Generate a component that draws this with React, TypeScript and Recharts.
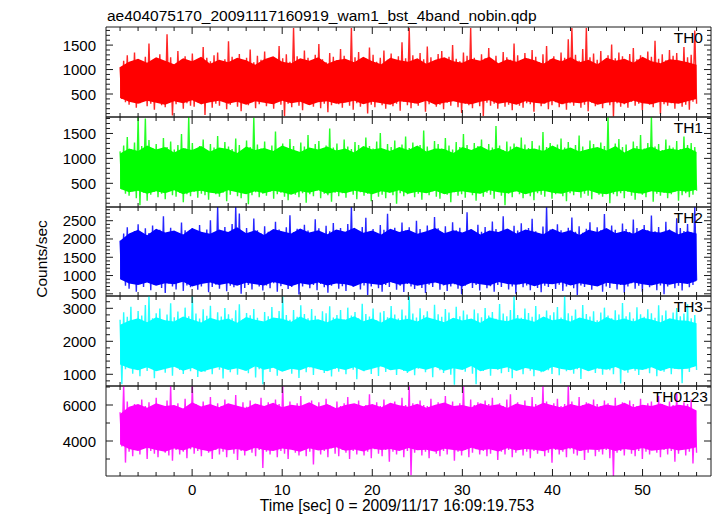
import { ComposedChart, Line, Area, XAxis, YAxis } from "recharts"

// time span of the light curve (sec), and the plotted x range
const T_START = -8
const T_END = 56
const X_DOMAIN: [number, number] = [-9.56, 57.6]
const timeTicks = [-8, -6, -4, -2, 0, 2, 4, 6, 8, 10, 12, 14, 16, 18, 20, 22, 24, 26, 28, 30, 32, 34, 36, 38, 40, 42, 44, 46, 48, 50, 52, 54, 56]
const timeLabels = [0, 10, 20, 30, 40, 50]

// upper / lower swings of each band, read left to right
const th0Hi = [
  1050, 1180, 1290, 1120, 1350, 1210, 1080, 1260, 1530, 1140, 1230, 1310, 1170, 1720, 1250, 1090, 1380, 1200, 1270, 1150,
  1330, 1190, 1100, 1460, 1240, 1170, 1290, 1350, 1120, 1210, 1580, 1260, 1180, 1320, 1090, 1240, 1410, 1150, 1280, 1200,
  1370, 1130, 1250, 1190, 1480, 1230, 1310, 1160, 1850, 1270, 1120, 1390, 1240, 1180, 1300, 1520, 1210, 1150, 1340, 1260,
  1190, 1420, 1280, 1130, 1850, 1250, 1360, 1170, 1220, 1450, 1300, 1160, 1240, 1390, 1200, 1330, 1110, 1270, 1560, 1230,
  1850, 1290, 1180, 1340, 1210, 1470, 1250, 1140, 1320, 1380, 1190, 1260, 1500, 1220, 1170, 1350, 1280, 1850, 1240, 1160,
  1310, 1230, 1440, 1190, 1280, 1130, 1360, 1250, 1200, 1530, 1290, 1170, 1340, 1220, 1400, 1260, 1150, 1310, 1480, 1210,
  1270, 1190, 1350, 1240, 1620, 1850, 1300, 1180, 1420, 1850, 1250, 1330, 1200, 1380, 1160, 1290, 1510, 1230, 1350, 1270,
  1180, 1320, 1440, 1210, 1290, 1150, 1370, 1260, 1590, 1220, 1310, 1190, 1400, 1280, 1340, 1170, 1460, 1250, 1300, 1800,
]
const th0Lo = [
  400, 330, 280, 360, 220, 310, 390, 250, 300, 180, 340, 270, 230, 320, 60, 290, 350, 200, 310, 260,
  240, 330, 290, 70, 350, 220, 300, 260, 380, 190, 280, 340, 240, 150, 310, 270, 330, 210, 290, 360,
  250, 310, 200, 340, 280, 50, 300, 230, 350, 260, 170, 320, 280, 240, 360, 210, 300, 130, 270, 330,
  290, 220, 350, 260, 180, 310, 240, 330, 100, 280, 230, 360, 270, 200, 320, 250, 300, 160, 340, 270,
  210, 310, 260, 350, 140, 290, 330, 240, 280, 190, 320, 260, 360, 230, 110, 300, 270, 210, 340, 250,
  50, 320, 260, 300, 200, 350, 240, 280, 170, 330, 260, 220, 310, 290, 140, 340, 250, 300, 190, 270,
  330, 230, 290, 180, 310, 260, 350, 220, 280, 150, 320, 250, 300, 210, 340, 270, 40, 310, 240, 290,
  220, 340, 260, 300, 170, 320, 280, 230, 350, 90, 290, 260, 310, 200, 330, 240, 280, 180, 340, 300,
]
const th1Hi = [
  1140, 1260, 1430, 1190, 1320, 1830, 1250, 1800, 1370, 1210, 1290, 1150, 1410, 1230, 1340, 1180, 1270, 1490, 1200, 1830,
  1310, 1170, 1250, 1380, 1120, 1290, 1220, 1450, 1160, 1330, 1240, 1190, 1400, 1270, 1150, 1360, 1230, 1820, 1280, 1200,
  1340, 1160, 1260, 1540, 1210, 1300, 1180, 1390, 1250, 1130, 1320, 1240, 1470, 1190, 1290, 1350, 1170, 1260, 1600, 1220,
  1300, 1150, 1380, 1240, 1190, 1330, 1270, 1130, 1420, 1250, 1200, 1340, 1510, 1180, 1290, 1230, 1360, 1160, 1280, 1440,
  1210, 1320, 1190, 1270, 1560, 1240, 1150, 1350, 1290, 1200, 1410, 1260, 1180, 1330, 1230, 1490, 1270, 1140, 1310, 1250,
  1380, 1190, 1290, 1220, 1650, 1260, 1170, 1340, 1240, 1300, 1160, 1420, 1280, 1210, 1350, 1190, 1260, 1530, 1230, 1310,
  1170, 1280, 1400, 1220, 1330, 1190, 1270, 1460, 1240, 1150, 1360, 1290, 1210, 1320, 1250, 1830, 1180, 1300, 1390, 1230,
  1280, 1160, 1340, 1250, 1470, 1200, 1310, 1830, 1240, 1290, 1170, 1380, 1260, 1220, 1350, 1190, 1440, 1270, 1310, 1230,
]
const th1Lo = [
  380, 290, 250, 340, 200, 60, 310, 150, 270, 330, 220, 290, 180, 350, 260, 230, 310, 120, 280, 240,
  330, 210, 290, 260, 170, 340, 280, 230, 310, 140, 270, 350, 240, 200, 300, 80, 260, 320, 220, 290,
  250, 330, 190, 280, 310, 230, 160, 340, 270, 220, 300, 110, 280, 240, 350, 200, 290, 260, 130, 310,
  240, 300, 210, 350, 270, 180, 320, 250, 290, 140, 330, 230, 270, 200, 310, 260, 90, 300, 240, 280,
  330, 220, 290, 170, 310, 260, 340, 230, 190, 300, 270, 120, 320, 250, 280, 210, 340, 260, 150, 300,
  230, 310, 270, 190, 330, 250, 60, 290, 220, 340, 280, 200, 310, 240, 160, 300, 270, 230, 350, 190,
  280, 320, 240, 140, 300, 260, 330, 210, 290, 250, 180, 340, 270, 230, 310, 100, 280, 240, 300, 200,
  330, 250, 170, 300, 270, 220, 340, 130, 290, 250, 310, 200, 280, 330, 150, 260, 300, 220, 270, 350,
]
const th2Hi = [
  1950, 2150, 2320, 2080, 2220, 2400, 2010, 2290, 2160, 2370, 2050, 2250, 2620, 2130, 2310, 2180, 2060, 2450, 2240, 2120,
  2290, 2170, 2380, 2090, 2260, 2510, 2140, 2875, 2220, 2330, 2060, 2410, 2875, 2700, 2180, 2300, 2110, 2560, 2240, 2150,
  2350, 2200, 2080, 2470, 2260, 2140, 2320, 2650, 2190, 2280, 2070, 2390, 2230, 2160, 2540, 2290, 2120, 2360, 2210, 2440,
  2150, 2300, 2190, 2410, 2875, 2240, 2110, 2330, 2580, 2200, 2270, 2130, 2380, 2250, 2690, 2180, 2310, 2090, 2450, 2230,
  2320, 2160, 2500, 2270, 2140, 2370, 2210, 2600, 2290, 2180, 2350, 2080, 2460, 2240, 2310, 2170, 2730, 2260, 2130, 2390,
  2200, 2330, 2150, 2480, 2270, 2190, 2620, 2250, 2120, 2360, 2230, 2430, 2160, 2300, 2550, 2210, 2140, 2340, 2875, 2260,
  2180, 2400, 2240, 2110, 2310, 2590, 2200, 2350, 2170, 2280, 2460, 2130, 2320, 2240, 2680, 2190, 2370, 2250, 2150, 2420,
  2270, 2190, 2530, 2300, 2160, 2380, 2240, 2640, 2210, 2330, 2120, 2470, 2260, 2190, 2570, 2300, 2220, 2410, 2180, 2875,
]
const th2Lo = [
  900, 720, 640, 810, 560, 760, 690, 850, 600, 740, 800, 660, 520, 780, 700, 620, 830, 580, 730, 680,
  760, 610, 700, 820, 540, 690, 750, 640, 800, 570, 720, 680, 780, 500, 660, 740, 620, 810, 700, 590,
  730, 650, 790, 560, 710, 840, 630, 690, 760, 480, 700, 820, 650, 740, 600, 770, 680, 530, 720, 800,
  640, 710, 580, 760, 690, 820, 620, 730, 470, 700, 780, 650, 560, 740, 690, 810, 610, 720, 550, 770,
  700, 630, 790, 660, 520, 750, 690, 820, 610, 730, 580, 700, 760, 640, 490, 720, 800, 660, 740, 590,
  780, 650, 710, 560, 740, 690, 830, 620, 700, 500, 760, 680, 730, 600, 790, 660, 540, 720, 690, 810,
  630, 750, 580, 700, 800, 650, 470, 730, 690, 760, 610, 720, 820, 560, 700, 660, 780, 620, 740, 530,
  700, 790, 640, 720, 560, 760, 680, 810, 600, 730, 490, 700, 770, 650, 720, 590, 800, 680, 740, 870,
]
const th3Hi = [
  2650, 2880, 2740, 3050, 2600, 2920, 2780, 3100, 3373, 2700, 2850, 2990, 2640, 2810, 3150, 2730, 2900, 2680, 3020, 2760,
  3373, 2840, 2690, 2970, 2770, 3080, 2630, 2880, 2750, 3010, 2820, 2700, 2940, 3120, 2660, 2860, 2790, 2980, 2710, 2600,
  2890, 2760, 3040, 2680, 2920, 3373, 2800, 2650, 2950, 2740, 3090, 2830, 2700, 2980, 2770, 2610, 2910, 2850, 3060, 2720,
  2800, 2950, 2660, 3020, 2780, 2890, 2700, 3140, 2830, 2750, 2990, 2640, 2870, 2920, 2730, 3070, 2810, 2690, 2960, 2780,
  3373, 2840, 2720, 3000, 2790, 2910, 2650, 3110, 2820, 2740, 2980, 2870, 2700, 3050, 2760, 2930, 2810, 2620, 2960, 2850,
  2730, 3010, 2780, 2890, 2680, 3130, 2840, 2760, 2950, 3373, 2800, 2710, 2990, 2860, 2740, 3070, 2820, 2670, 2930, 2790,
  2880, 3040, 2720, 3373, 2850, 2770, 2960, 2690, 3100, 2830, 2750, 2910, 2640, 2870, 3020, 2780, 2700, 2940, 2810, 3160,
  2760, 2880, 2690, 3030, 2820, 2740, 2970, 2850, 2710, 3090, 2790, 2930, 2660, 2870, 3010, 2760, 2840, 3120, 2700, 2800,
]
const th3Lo = [
  700, 1150, 1280, 1020, 1200, 940, 1310, 1100, 1230, 880, 1170, 1290, 1050, 1220, 960, 1300, 1130, 1010, 1250, 1090,
  1190, 920, 1270, 1080, 1210, 1000, 1320, 1140, 870, 1240, 1060, 1180, 990, 1290, 1120, 1030, 1260, 900, 1150, 700,
  1230, 1070, 1300, 960, 1190, 1110, 1250, 1020, 1170, 890, 1280, 1060, 1210, 980, 1320, 1130, 1040, 1240, 930, 1160,
  1080, 1270, 1000, 1200, 1140, 850, 1260, 1090, 1180, 1010, 1310, 950, 1220, 1070, 1150, 1290, 980, 1200, 1100, 1040,
  1250, 970, 1170, 1300, 1060, 1190, 910, 1230, 1120, 1040, 1280, 990, 680, 1160, 1210, 1080, 1250, 1020, 700, 1180,
  1100, 1260, 960, 1200, 1140, 1030, 1290, 1070, 880, 1220, 1160, 1000, 1270, 1110, 940, 1230, 1060, 1190, 1120, 1010,
  1240, 970, 1180, 1090, 1300, 1020, 1150, 860, 1210, 1100, 1260, 1040, 1170, 990, 1280, 1120, 1000, 1230, 720, 1140,
  1050, 1270, 1110, 980, 1200, 1150, 1030, 1290, 940, 1180, 1080, 1240, 1000, 1160, 1260, 730, 1190, 1070, 1220, 1130,
]
const thAllHi = [
  5600, 7056, 6200, 5850, 6050, 5700, 6300, 5950, 6150, 5800, 6400, 6000, 5750, 6250, 7056, 5900, 6100, 5650, 6350, 5950,
  7056, 6050, 5800, 6200, 5900, 6450, 5700, 6100, 5950, 6300, 5850, 6000, 6550, 5750, 6150, 5900, 6250, 5800, 6050, 6400,
  5950, 6150, 5700, 6300, 6050, 7056, 5850, 6200, 5950, 6100, 6500, 5800, 6000, 6250, 5900, 6150, 5750, 6350, 6000, 5850,
  6200, 5950, 6100, 6450, 5800, 6050, 6250, 5900, 6000, 6600, 5850, 6150, 5950, 6300, 5700, 6050, 6200, 5900, 6400, 6000,
  7056, 6100, 5850, 6250, 6000, 5950, 6350, 5800, 6150, 6050, 6500, 5900, 6200, 5950, 6100, 7056, 5850, 6300, 6000, 6150,
  5900, 6250, 6050, 6400, 5800, 6100, 5950, 6300, 6600, 5850, 6150, 6000, 6250, 5900, 6450, 6050, 5950, 7056, 6200, 5850,
  6100, 6350, 5950, 6050, 7056, 6200, 5900, 6450, 6000, 6150, 5850, 6300, 6050, 5950, 6250, 6100, 5800, 6400, 6000, 6150,
  5900, 6250, 6050, 5950, 6350, 5850, 6100, 6200, 5950, 6500, 6050, 5900, 6200, 6000, 6650, 5950, 6150, 6050, 6300, 5700,
]
const thAllLo = [
  3700, 2800, 3400, 3150, 3550, 3250, 3650, 3000, 3450, 3300, 3100, 3600, 3350, 3200, 2900, 3500, 3250, 3400, 3050, 3550,
  3300, 3450, 3150, 3600, 3350, 3000, 3500, 3250, 3400, 3100, 3550, 3300, 2950, 3450, 3200, 3600, 3350, 3150, 3500, 2500,
  3400, 3250, 3550, 3100, 3450, 3300, 3000, 3600, 3350, 3200, 3500, 3150, 3400, 2700, 3550, 3250, 3450, 3100, 3600, 3300,
  3150, 3500, 3350, 3000, 3450, 3250, 3600, 3200, 3400, 3050, 3550, 3300, 3150, 3500, 2850, 3400, 3250, 3600, 3100, 3450,
  2100, 3350, 3500, 3200, 3400, 3050, 3550, 3300, 3150, 3450, 3250, 3600, 2900, 3400, 3200, 3500, 3100, 3350, 3550, 3250,
  3450, 3150, 3300, 3600, 2950, 3400, 3250, 3500, 3100, 3350, 3550, 3200, 3400, 3050, 3450, 3300, 3600, 3150, 3350, 2800,
  3500, 3250, 3400, 3100, 3550, 3300, 3200, 3450, 2950, 3350, 3600, 3150, 3400, 3250, 3500, 3050, 2056, 3350, 3450, 3200,
  3550, 3300, 3150, 3450, 3000, 3400, 3250, 3600, 3350, 3100, 3500, 3250, 3450, 2850, 3300, 3550, 3200, 3400, 2750, 3350,
]

// solid core of each band (where the strokes merge), one value per second from -8 to 56
const th0CoreHi = [
  1050, 1160, 1220, 1140, 1250, 1180, 1110, 1230, 1170, 1260, 1120, 1200, 1150, 1240, 1190, 1100,
  1210, 1270, 1160, 1130, 1230, 1180, 1250, 1120, 1190, 1220, 1150, 1260, 1170, 1110, 1240, 1190,
  1160, 1230, 1120, 1200, 1250, 1170, 1140, 1220, 1180, 1260, 1130, 1210, 1160, 1240, 1190, 1120,
  1230, 1170, 1250, 1150, 1200, 1110, 1240, 1180, 1220, 1140, 1260, 1170, 1130, 1210, 1190, 1150, 1100,
]
const th0CoreLo = [
  420, 340, 300, 360, 320, 280, 350, 310, 370, 290, 330, 360, 300, 340, 280, 350,
  320, 290, 360, 310, 340, 270, 330, 350, 300, 320, 360, 290, 340, 310, 280, 350,
  330, 300, 360, 280, 320, 350, 310, 290, 340, 370, 300, 330, 280, 350, 320, 300,
  360, 290, 330, 310, 350, 280, 320, 340, 300, 360, 310, 290, 340, 320, 300, 350, 400,
]
const th1CoreHi = [
  1100, 1200, 1150, 1260, 1180, 1230, 1120, 1210, 1170, 1250, 1140, 1220, 1190, 1110, 1240, 1170,
  1210, 1150, 1260, 1190, 1130, 1220, 1180, 1240, 1160, 1200, 1120, 1250, 1180, 1210, 1150, 1230,
  1170, 1260, 1140, 1200, 1190, 1110, 1230, 1170, 1250, 1160, 1210, 1130, 1240, 1180, 1200, 1150,
  1260, 1170, 1220, 1140, 1190, 1230, 1160, 1250, 1120, 1210, 1180, 1240, 1150, 1200, 1170, 1220, 1130,
]
const th1CoreLo = [
  390, 320, 350, 290, 340, 300, 360, 280, 330, 350, 310, 290, 360, 320, 280, 340,
  300, 350, 320, 270, 340, 310, 360, 290, 330, 300, 350, 320, 280, 340, 310, 360,
  290, 330, 300, 350, 280, 320, 340, 310, 290, 360, 320, 300, 340, 280, 330, 350,
  310, 290, 340, 320, 360, 300, 280, 330, 350, 310, 290, 340, 320, 300, 350, 330, 370,
]
const th2CoreHi = [
  1950, 2150, 2250, 2100, 2280, 2180, 2230, 2120, 2300, 2200, 2140, 2260, 2190, 2320, 2160, 2240,
  2110, 2270, 2210, 2150, 2290, 2180, 2240, 2130, 2260, 2200, 2310, 2170, 2230, 2120, 2280, 2190,
  2250, 2140, 2210, 2300, 2160, 2240, 2180, 2270, 2120, 2230, 2190, 2290, 2150, 2260, 2200, 2130,
  2280, 2170, 2240, 2110, 2250, 2190, 2300, 2160, 2220, 2140, 2270, 2200, 2180, 2250, 2130, 2210, 2150,
]
const th2CoreLo = [
  900, 780, 740, 810, 720, 790, 760, 830, 700, 770, 810, 740, 790, 720, 800, 760,
  730, 820, 770, 710, 790, 750, 810, 730, 780, 760, 700, 800, 770, 740, 820, 750,
  790, 720, 770, 810, 740, 780, 700, 800, 760, 730, 820, 770, 750, 790, 710, 780,
  760, 810, 730, 790, 750, 700, 800, 770, 740, 810, 760, 730, 790, 750, 800, 770, 850,
]
const th3CoreHi = [
  2500, 2620, 2700, 2580, 2730, 2640, 2600, 2750, 2660, 2570, 2710, 2630, 2690, 2560, 2740, 2650,
  2600, 2720, 2680, 2590, 2750, 2630, 2670, 2580, 2700, 2650, 2760, 2610, 2690, 2570, 2720, 2640,
  2680, 2600, 2740, 2660, 2580, 2710, 2630, 2690, 2560, 2730, 2650, 2610, 2700, 2670, 2590, 2750,
  2640, 2680, 2600, 2720, 2650, 2570, 2740, 2630, 2690, 2600, 2710, 2660, 2580, 2700, 2640, 2620, 2550,
]
const th3CoreLo = [
  1300, 1180, 1120, 1210, 1090, 1160, 1230, 1110, 1190, 1070, 1150, 1220, 1130, 1180, 1100, 1240,
  1140, 1200, 1080, 1170, 1120, 1230, 1150, 1090, 1190, 1130, 1210, 1100, 1170, 1240, 1120, 1160,
  1080, 1200, 1140, 1220, 1110, 1180, 1130, 1250, 1090, 1170, 1150, 1210, 1100, 1190, 1140, 1080,
  1230, 1160, 1120, 1200, 1090, 1180, 1140, 1220, 1110, 1170, 1130, 1210, 1100, 1190, 1150, 1170, 1250,
]
const thAllCoreHi = [
  5500, 5900, 6050, 5850, 6100, 5950, 6000, 5800, 6150, 5920, 6050, 5880, 6100, 5960, 5830, 6080,
  5950, 6120, 5870, 6020, 5940, 6150, 5900, 6060, 5820, 6000, 6100, 5930, 6050, 5870, 6130, 5980,
  5900, 6070, 5850, 6020, 6140, 5950, 6000, 5880, 6100, 5960, 6040, 5840, 6090, 5970, 5910, 6120,
  5980, 5860, 6060, 5930, 6100, 5890, 6030, 5950, 6120, 5870, 6010, 5940, 6080, 5900, 6020, 5950, 5700,
]
const thAllCoreLo = [
  3800, 3550, 3450, 3620, 3500, 3400, 3580, 3470, 3650, 3520, 3420, 3600, 3480, 3560, 3430, 3620,
  3500, 3450, 3580, 3520, 3400, 3600, 3470, 3540, 3650, 3460, 3530, 3420, 3590, 3500, 3560, 3440,
  3610, 3480, 3520, 3400, 3570, 3500, 3450, 3630, 3490, 3540, 3420, 3600, 3470, 3550, 3510, 3430,
  3590, 3480, 3620, 3450, 3530, 3500, 3580, 3440, 3560, 3490, 3610, 3460, 3520, 3580, 3470, 3540, 3650,
]

// y ticks: every tick, and the ones carrying a number
const ticks01 = [100, 200, 300, 400, 500, 600, 700, 800, 900, 1000, 1100, 1200, 1300, 1400, 1500, 1600, 1700, 1800]
const labels01 = [500, 1000, 1500]
const ticks2 = [500, 600, 700, 800, 900, 1000, 1100, 1200, 1300, 1400, 1500, 1600, 1700, 1800, 1900, 2000, 2100, 2200, 2300, 2400, 2500, 2600, 2700, 2800]
const labels2 = [500, 1000, 1500, 2000, 2500]
const ticks3 = [800, 1000, 1200, 1400, 1600, 1800, 2000, 2200, 2400, 2600, 2800, 3000, 3200]
const labels3 = [1000, 2000, 3000]
const ticksAll = [3000, 4000, 5000, 6000, 7000]
const labelsAll = [4000, 6000]

const FONT = "'Liberation Sans', Arial, Helvetica, sans-serif"
const AXIS = "#1a1a1a"
const LEFT = 106
const RIGHT = 711
const PAD = 12

const panels = [
  { name: "TH0", color: "#ff0000", hi: th0Hi, lo: th0Lo, coreHi: th0CoreHi, coreLo: th0CoreLo, domain: [30, 1870], ticks: ticks01, labels: labels01, top: 27, bottom: 117, nameX: 703 },
  { name: "TH1", color: "#00ff00", hi: th1Hi, lo: th1Lo, coreHi: th1CoreHi, coreLo: th1CoreLo, domain: [25, 1830], ticks: ticks01, labels: labels01, top: 117, bottom: 207, nameX: 703 },
  { name: "TH2", color: "#0000ff", hi: th2Hi, lo: th2Lo, coreHi: th2CoreHi, coreLo: th2CoreLo, domain: [440, 2875], ticks: ticks2, labels: labels2, top: 207, bottom: 296, nameX: 703 },
  { name: "TH3", color: "#00ffff", hi: th3Hi, lo: th3Lo, coreHi: th3CoreHi, coreLo: th3CoreLo, domain: [645, 3373], ticks: ticks3, labels: labels3, top: 296, bottom: 386, nameX: 703 },
  { name: "TH0123", color: "#ff00ff", hi: thAllHi, lo: thAllLo, coreHi: thAllCoreHi, coreLo: thAllCoreLo, domain: [2056, 7056], ticks: ticksAll, labels: labelsAll, top: 386, bottom: 476, nameX: 708 },
]

function toRows(hi: number[], lo: number[]) {
  const n = hi.length * 2
  const step = (T_END - T_START) / (n - 1)
  const rows: { t: number; v: number }[] = []
  hi.forEach((h, i) => {
    rows.push({ t: T_START + 2 * i * step, v: h })
    rows.push({ t: T_START + (2 * i + 1) * step, v: lo[i] })
  })
  return rows
}

function toCore(hi: number[], lo: number[]) {
  const step = (T_END - T_START) / (hi.length - 1)
  return hi.map((h, i) => ({ t: T_START + i * step, band: [lo[i], h] }))
}

function makeYTick(labels: number[]) {
  return (props: any) => {
    const { y, payload } = props
    const major = labels.includes(payload.value)
    const len = major ? 7 : 4
    return (
      <g>
        <line x1={LEFT} x2={LEFT + len} y1={y} y2={y} stroke={AXIS} />
        <line x1={RIGHT - len} x2={RIGHT} y1={y} y2={y} stroke={AXIS} />
        {major && (
          <text x={LEFT - 10} y={y} textAnchor="end" dominantBaseline="central" fontSize={15} fontFamily={FONT} fill="#000">
            {payload.value}
          </text>
        )}
      </g>
    )
  }
}

function makeXTick(plotTop: number, plotBottom: number, showLabels: boolean) {
  return (props: any) => {
    const { x, payload } = props
    const major = timeLabels.includes(payload.value)
    const len = major ? 7 : 4
    return (
      <g>
        <line x1={x} x2={x} y1={plotTop} y2={plotTop + len} stroke={AXIS} />
        <line x1={x} x2={x} y1={plotBottom - len} y2={plotBottom} stroke={AXIS} />
        {showLabels && major && (
          <text x={x} y={plotBottom + 13} textAnchor="middle" dominantBaseline="central" fontSize={15} fontFamily={FONT} fill="#000">
            {payload.value}
          </text>
        )}
      </g>
    )
  }
}

function Panel({ p, last }: { p: (typeof panels)[number]; last: boolean }) {
  const h = p.bottom - p.top
  const padBottom = last ? 30 : PAD
  const rows = toRows(p.hi, p.lo)
  const core = toCore(p.coreHi, p.coreLo)
  return (
    <div style={{ position: "absolute", left: 0, top: p.top - PAD }}>
      <ComposedChart
        width={717}
        height={h + PAD + padBottom}
        data={rows}
        margin={{ top: PAD - 1, right: 717 - RIGHT - 1, bottom: padBottom - 1, left: 0 }}
      >
        <XAxis
          xAxisId="b"
          dataKey="t"
          type="number"
          domain={X_DOMAIN}
          allowDataOverflow
          ticks={timeTicks}
          interval={0}
          height={1}
          tickLine={false}
          axisLine={{ stroke: AXIS }}
          tick={makeXTick(PAD, PAD + h, last)}
        />
        <XAxis
          xAxisId="top"
          orientation="top"
          dataKey="t"
          type="number"
          domain={X_DOMAIN}
          allowDataOverflow
          ticks={timeTicks}
          height={1}
          tick={false}
          tickLine={false}
          axisLine={{ stroke: AXIS }}
        />
        <YAxis
          yAxisId="l"
          type="number"
          domain={p.domain}
          allowDataOverflow
          ticks={p.ticks}
          interval={0}
          width={LEFT}
          tickLine={false}
          axisLine={{ stroke: AXIS }}
          tick={makeYTick(p.labels)}
        />
        <YAxis
          yAxisId="r"
          orientation="right"
          type="number"
          domain={p.domain}
          allowDataOverflow
          ticks={p.ticks}
          width={1}
          tick={false}
          tickLine={false}
          axisLine={{ stroke: AXIS }}
        />
        <Area
          xAxisId="b"
          yAxisId="l"
          data={core}
          dataKey="band"
          type="linear"
          stroke="none"
          fill={p.color}
          fillOpacity={1}
          isAnimationActive={false}
        />
        <Line xAxisId="b" yAxisId="l" type="linear" dataKey="v" stroke={p.color} strokeWidth={1.4} strokeOpacity={0.85} dot={false} isAnimationActive={false} />
      </ComposedChart>
    </div>
  )
}

export default function App() {
  return (
    <div style={{ position: "absolute", left: 0, top: 0, width: 717, height: 516, background: "#fff", overflow: "hidden" }}>
      {panels.map((p, i) => (
        <Panel key={p.name} p={p} last={i === panels.length - 1} />
      ))}
      <svg width={717} height={516} style={{ position: "absolute", left: 0, top: 0, pointerEvents: "none" }} fontFamily={FONT}>
        <text x={107} y={21} fontSize={15.5} fill="#000">
          ae404075170_20091117160919_wam1_bst_4band_nobin.qdp
        </text>
        <text x={397} y={511} fontSize={15.6} textAnchor="middle" fill="#000">
          Time [sec] 0 = 2009/11/17 16:09:19.753
        </text>
        <text x={47} y={259} fontSize={15.5} textAnchor="middle" transform="rotate(-90 47 259)" fill="#000">
          Counts/sec
        </text>
        {panels.map((p) => (
          <text key={p.name} x={p.nameX} y={p.top + 10} fontSize={15.5} textAnchor="end" dominantBaseline="central" fill="#000">
            {p.name}
          </text>
        ))}
      </svg>
    </div>
  )
}
